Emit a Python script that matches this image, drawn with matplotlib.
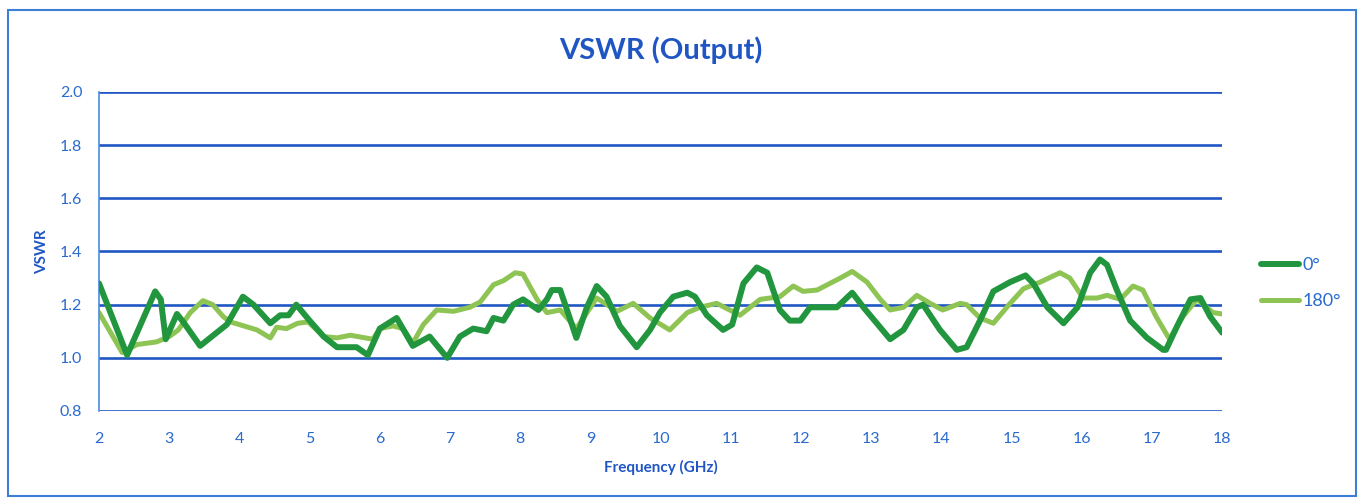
import matplotlib.pyplot as plt
from matplotlib.patches import Rectangle

# 0 deg trace
freq_0 = [2.0, 2.40, 2.80, 2.88, 2.95, 3.11, 3.2, 3.44, 3.82, 4.05, 4.2, 4.44, 4.58, 4.7, 4.81,
          5.0, 5.2, 5.39, 5.67, 5.83, 6.0, 6.24, 6.47, 6.71, 6.96, 7.14, 7.33, 7.52, 7.62,
          7.76, 7.9, 8.04, 8.26, 8.38, 8.45, 8.57, 8.68, 8.8, 8.95, 9.09, 9.23, 9.42, 9.66,
          9.85, 9.99, 10.18, 10.38, 10.49, 10.66, 10.89, 11.02, 11.18, 11.37, 11.52, 11.7,
          11.84, 11.99, 12.13, 12.27, 12.51, 12.73, 12.89, 13.08, 13.27, 13.46, 13.65, 13.74,
          13.98, 14.22, 14.36, 14.55, 14.74, 14.98, 15.2, 15.31, 15.51, 15.74, 15.94, 16.12,
          16.26, 16.36, 16.5, 16.69, 16.93, 17.16, 17.2, 17.36, 17.55, 17.69, 17.83, 18.0]
vswr_0 = [1.28, 1.01, 1.25, 1.22, 1.07, 1.165, 1.135, 1.045, 1.125, 1.23, 1.2, 1.13, 1.16, 1.16, 1.2,
          1.14, 1.08, 1.04, 1.04, 1.01, 1.11, 1.15, 1.045, 1.08, 1.0, 1.08, 1.11, 1.1, 1.15,
          1.14, 1.2, 1.22, 1.18, 1.22, 1.255, 1.255, 1.17, 1.075, 1.19, 1.27, 1.23, 1.12, 1.04,
          1.105, 1.17, 1.23, 1.245, 1.23, 1.16, 1.105, 1.125, 1.28, 1.34, 1.32, 1.18,
          1.14, 1.14, 1.19, 1.19, 1.19, 1.245, 1.19, 1.13, 1.07, 1.105, 1.19, 1.2,
          1.105, 1.03, 1.04, 1.14, 1.25, 1.285, 1.31, 1.28, 1.19, 1.13, 1.19, 1.32,
          1.37, 1.35, 1.255, 1.14, 1.075, 1.03, 1.03, 1.12, 1.22, 1.225, 1.155, 1.095]

# 180 deg trace
freq_180 = [2.0, 2.33, 2.54, 2.82, 3.0, 3.13, 3.3, 3.48, 3.62, 3.77, 3.87, 4.0, 4.25, 4.44, 4.53,
            4.67, 4.83, 4.98, 5.2, 5.39, 5.58, 5.9, 6.0, 6.19, 6.33, 6.47, 6.62, 6.81, 7.05,
            7.28, 7.43, 7.62, 7.76, 7.93, 8.04, 8.24, 8.38, 8.57, 8.8, 9.09, 9.38, 9.61, 9.85,
            10.13, 10.38, 10.56, 10.8, 11.13, 11.42, 11.7, 11.89, 12.03, 12.23, 12.56, 12.73,
            12.94, 13.13, 13.27, 13.46, 13.65, 13.84, 14.02, 14.27, 14.36, 14.55, 14.74, 14.98,
            15.17, 15.41, 15.69, 15.83, 16.02, 16.22, 16.36, 16.55, 16.73, 16.87, 17.06, 17.25,
            17.44, 17.64, 17.87, 18.0]
vswr_180 = [1.17, 1.02, 1.05, 1.06, 1.08, 1.105, 1.17, 1.215, 1.2, 1.155, 1.135, 1.125, 1.105, 1.075, 1.115,
            1.11, 1.13, 1.135, 1.08, 1.075, 1.085, 1.07, 1.11, 1.12, 1.11, 1.055, 1.125, 1.18, 1.175,
            1.19, 1.21, 1.275, 1.29, 1.32, 1.315, 1.22, 1.17, 1.18, 1.11, 1.225, 1.175, 1.205, 1.15,
            1.105, 1.17, 1.19, 1.205, 1.16, 1.22, 1.23, 1.27, 1.25, 1.255, 1.3, 1.325,
            1.285, 1.22, 1.18, 1.19, 1.235, 1.205, 1.18, 1.205, 1.2, 1.15, 1.13, 1.205,
            1.26, 1.285, 1.32, 1.3, 1.225, 1.225, 1.235, 1.22, 1.27, 1.255, 1.155, 1.07,
            1.155, 1.22, 1.17, 1.165]

x_ticks = list(range(2, 19))
y_ticks = [0.8, 1.0, 1.2, 1.4, 1.6, 1.8, 2.0]

blue = '#1F56C3'
text_blue = '#2A6ACF'
dark_green = '#22963E'
light_green = '#8EC453'

plt.rcParams['font.family'] = ['Lato', 'DejaVu Sans']

fig = plt.figure(figsize=(13.64, 4.98), dpi=100)
ax = fig.add_axes([0.0726, 0.1747, 0.8234, 0.6406])

# outer chart border
fig.patches.append(Rectangle((0.006, 0.004), 0.988, 0.976, transform=fig.transFigure,
                             fill=False, edgecolor='#3C7FD6', linewidth=1.5))

for y in y_ticks:
    ax.axhline(y, color=blue, linewidth=1.9, zorder=1)

ax.plot(freq_0, vswr_0, color=dark_green, linewidth=4.3, label='0°', zorder=3,
        solid_joinstyle='round', solid_capstyle='round')
ax.plot(freq_180, vswr_180, color=light_green, linewidth=3.6, label='180°', zorder=2,
        solid_joinstyle='round', solid_capstyle='round')

ax.set_xlim(2, 18)
ax.set_ylim(0.8, 2.0)
ax.set_xticks(x_ticks)
ax.set_yticks(y_ticks)
ax.set_yticklabels([f'{v:.1f}' for v in y_ticks])
ax.tick_params(length=0, labelsize=11.5, labelcolor=text_blue, pad=15)
ax.tick_params(axis='y', pad=12)

for s in ['top', 'right', 'bottom']:
    ax.spines[s].set_visible(False)
ax.spines['left'].set_color('#4A8BE0')
ax.spines['left'].set_linewidth(1.2)

ax.set_title('VSWR (Output)', fontsize=21, fontweight='bold', color=blue, pad=24)
ax.set_xlabel('Frequency (GHz)', fontsize=11, fontweight='bold', color=blue, labelpad=10)
ax.set_ylabel('VSWR', fontsize=11, fontweight='bold', color=blue, labelpad=8)

leg = ax.legend(loc='center left', bbox_to_anchor=(1.035, 0.40), frameon=False,
                fontsize=13, handlelength=2.1, labelspacing=1.1, handletextpad=0.15,
                borderaxespad=0, borderpad=0)
for t in leg.get_texts():
    t.set_color(text_blue)

fig.savefig('out.png', dpi=100)
